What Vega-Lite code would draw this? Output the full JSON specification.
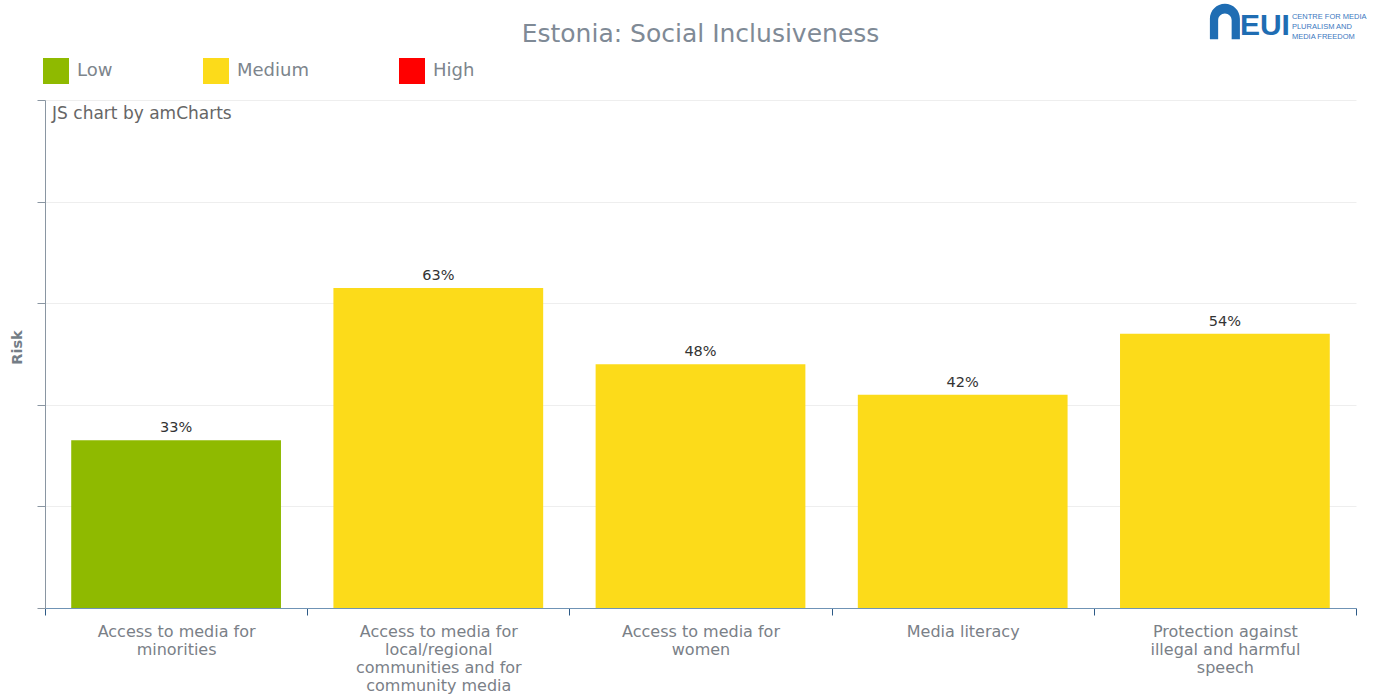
{
  "$schema": "https://vega.github.io/schema/vega-lite/v6.json",
  "width": 1311,
  "height": 508,
  "autosize": {"type": "none"},
  "padding": {"left": 45, "top": 100, "right": 17, "bottom": 87},
  "background": "white",
  "title": {"text": "Estonia: Social Inclusiveness", "fontSize": 25, "font": "DejaVu Sans", "fontWeight": "normal", "color": "#7f8a96", "anchor": "middle", "frame": "group", "offset": -43},
  "config": {"view": {"stroke": null}, "font": "DejaVu Sans"},
  "data": {"values": [
    {"indicator": "Access to media for|minorities", "risk": 33, "label": "33%", "level": "Low"},
    {"indicator": "Access to media for|local/regional|communities and for|community media", "risk": 63, "label": "63%", "level": "Medium"},
    {"indicator": "Access to media for|women", "risk": 48, "label": "48%", "level": "Medium"},
    {"indicator": "Media literacy", "risk": 42, "label": "42%", "level": "Medium"},
    {"indicator": "Protection against|illegal and harmful|speech", "risk": 54, "label": "54%", "level": "Medium"}
  ]},
  "encoding": {
    "x": {"field": "indicator", "type": "nominal", "sort": null,
      "scale": {"paddingInner": 0, "paddingOuter": 0},
      "axis": {"title": null, "labelAngle": 0, "labelExpr": "split(datum.label, '|')", "labelFontSize": 16, "labelColor": "#7a8087", "labelLineHeight": 18, "labelPadding": 8, "labelLimit": 0, "tickBand": "extent", "tickSize": 7, "tickColor": "#2d5a86", "domainColor": "#6f93b5", "grid": false}},
    "y": {"field": "risk", "type": "quantitative", "scale": {"domain": [0, 100]},
      "axis": {"title": "Risk", "titleFontSize": 14.5, "titleFontWeight": "bold", "titleColor": "#737d86", "titlePadding": 12, "titleY": 247, "labels": false, "values": [0, 20, 40, 60, 80, 100], "tickSize": 8, "tickColor": "#8a96a2", "domainColor": "#8a96a2", "grid": true, "gridColor": "#eeeeee"}}
  },
  "layer": [
    {
      "mark": {"type": "bar", "width": {"band": 0.8}},
      "encoding": {
        "fill": {"field": "level", "type": "nominal",
          "scale": {"domain": ["Low", "Medium", "High"], "range": ["#8fba00", "#fcdb1a", "#ff0000"]},
          "legend": {"title": null, "orient": "none", "legendX": -2, "legendY": -42, "direction": "horizontal", "symbolType": "square", "symbolSize": 676, "symbolStrokeWidth": 0, "symbolOpacity": 1, "labelFontSize": 18, "labelColor": "#7d858c", "labelOffset": 8, "columnPadding": 90, "padding": 0}}
      }
    },
    {
      "mark": {"type": "text", "dy": -12, "baseline": "middle", "fontSize": 14.5, "color": "#333333"},
      "encoding": {"text": {"field": "label", "type": "nominal"}}
    },
    {
      "transform": [{"filter": "datum.level == 'Low'"}],
      "mark": {"type": "text", "align": "left", "baseline": "middle", "dx": -124, "dy": 14, "fontSize": 17, "color": "#666666", "text": "JS chart by amCharts"},
      "encoding": {"y": {"datum": 100, "type": "quantitative"}}
    },
    {
      "transform": [{"filter": "datum.risk == 54"}],
      "mark": {"type": "point", "filled": true, "opacity": 1, "color": "#1f6db3", "size": 900, "clip": false,
        "shape": "M-1,1.17 L-1,-0.2 A1,1 0 0 1 1,-0.2 L1,1.17 L0.45,1.17 L0.45,-0.1 A0.45,0.45 0 0 0 -0.45,-0.1 L-0.45,1.17 Z"},
      "encoding": {"y": {"datum": 115.4, "type": "quantitative"}}
    },
    {
      "transform": [{"filter": "datum.risk == 54"}],
      "mark": {"type": "text", "align": "left", "baseline": "middle", "dx": 15, "dy": 4, "font": "Liberation Sans", "fontSize": 30, "fontWeight": "bold", "color": "#1f6db3", "clip": false, "text": "EUI"},
      "encoding": {"y": {"datum": 115.4, "type": "quantitative"}}
    },
    {
      "transform": [{"filter": "datum.risk == 54"}],
      "mark": {"type": "text", "align": "left", "baseline": "top", "dx": 67, "dy": -9, "font": "Liberation Sans", "fontSize": 7.5, "lineHeight": 10, "color": "#3b78c0", "clip": false, "text": ["CENTRE FOR MEDIA", "PLURALISM AND", "MEDIA FREEDOM"]},
      "encoding": {"y": {"datum": 115.4, "type": "quantitative"}}
    }
  ]
}
